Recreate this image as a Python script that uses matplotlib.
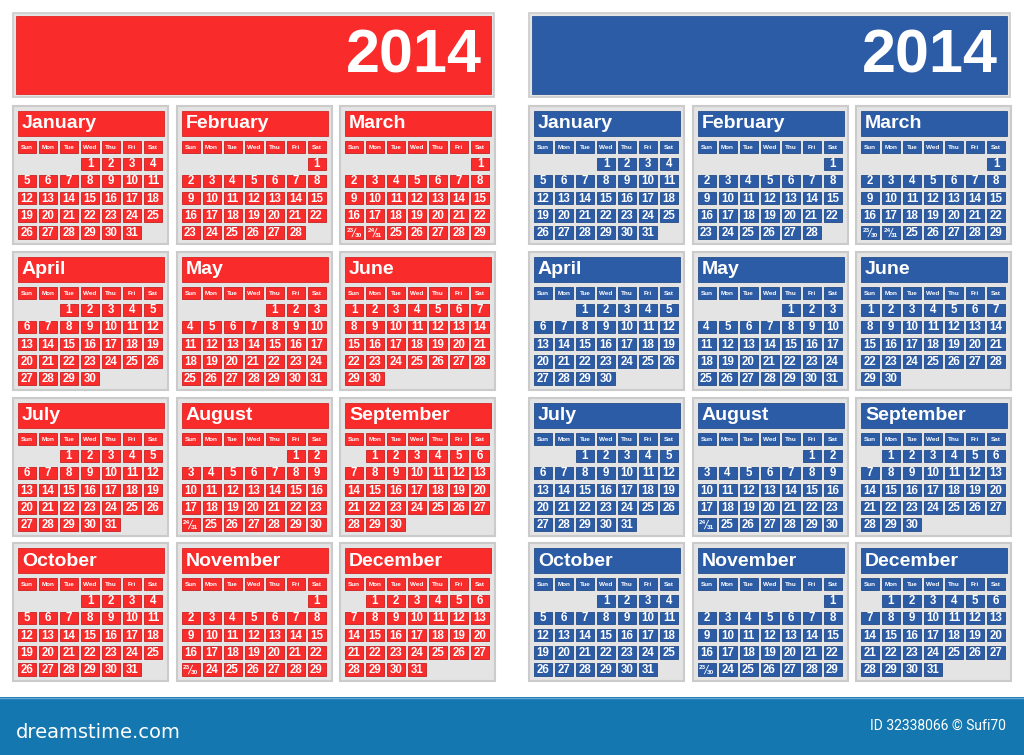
import matplotlib
matplotlib.use("Agg")
import matplotlib.pyplot as plt
from matplotlib.patches import Rectangle

# ---- data ----
year = "2014"
month_names = ["January", "February", "March", "April", "May", "June",
               "July", "August", "September", "October", "November", "December"]
weekday_names = ["Sun", "Mon", "Tue", "Wed", "Thu", "Fri", "Sat"]
first_weekday = [3, 6, 6, 2, 4, 0, 2, 5, 1, 3, 6, 1]   # 0 = Sunday
month_days = [31, 28, 31, 30, 31, 30, 31, 31, 30, 31, 30, 31]
theme_colors = ["#f92b2b", "#2c5ca6"]
footer_left = "dreamstime.com"
footer_right = "ID 32338066 \u00a9 Sufi70"

W, H = 1024, 755
fig = plt.figure(figsize=(W / 100, H / 100), dpi=100)
ax = fig.add_axes([0, 0, 1, 1])
ax.set_xlim(0, W)
ax.set_ylim(H, 0)
ax.axis("off")
fig.patch.set_facecolor("white")

FONT = "Liberation Sans"
panel_bg = "#e4e4e4"
panel_edge = "#cbcbcb"

side_x0 = [13, 529]
col_dx = [0, 163.5, 327]
row_y0 = [106, 252, 398, 543]
PW, PH = 155, 138


def darker(c, f=0.8):
    r, g, b = matplotlib.colors.to_rgb(c)
    return (r * f, g * f, b * f)


for s, color in enumerate(theme_colors):
    x0 = side_x0[s]
    # header block
    ax.add_patch(Rectangle((x0, 13), 481, 84, facecolor=panel_bg,
                           edgecolor=panel_edge, lw=1.2))
    ax.add_patch(Rectangle((x0 + 3, 16), 475, 78, facecolor=color,
                           edgecolor=darker(color, 0.9), lw=0.6))
    ax.text(x0 + 469, 57, year, color="white", fontsize=44, fontweight="bold",
            family=FONT, ha="right", va="center")

    for m in range(12):
        px = x0 + col_dx[m % 3]
        py = row_y0[m // 3]
        ax.add_patch(Rectangle((px, py), PW, PH, facecolor=panel_bg,
                               edgecolor=panel_edge, lw=1.5))
        ax.add_patch(Rectangle((px + 5, py + 5), 146, 25, facecolor=color,
                               edgecolor=darker(color, 0.85), lw=0.6))
        ax.text(px + 9, py + 18, month_names[m], color="white", fontsize=14,
                fontweight="bold", family=FONT, ha="left", va="center")
        cw, ch, step = 18, 12.5, 21
        for i, wd in enumerate(weekday_names):
            cx = px + 5 + i * step
            ax.add_patch(Rectangle((cx, py + 35), cw, 12, facecolor=color,
                                   edgecolor=darker(color, 0.8), lw=0.6))
            ax.text(cx + cw / 2, py + 41.3, wd, color="white", fontsize=4.6,
                    fontweight="bold", family=FONT, ha="center", va="center")
        off = first_weekday[m]
        nd = month_days[m]
        for d in range(1, nd + 1):
            idx = off + d - 1
            if idx >= 35:
                continue
            r, c = divmod(idx, 7)
            cx = px + 5 + c * step
            cy = py + 51.5 + r * 17.2
            ax.add_patch(Rectangle((cx, cy), cw, ch, facecolor=color,
                                   edgecolor=darker(color, 0.8), lw=0.6))
            if r == 4 and d + 7 <= nd and off + d + 6 >= 35:
                ax.text(cx + 1.5, cy + 3.8, str(d), color="white", fontsize=4.6,
                        fontweight="bold", family=FONT, ha="left", va="center")
                ax.text(cx + cw - 1.5, cy + ch - 3.2, str(d + 7), color="white",
                        fontsize=4.6, fontweight="bold", family=FONT,
                        ha="right", va="center")
                ax.plot([cx + 7, cx + 11], [cy + ch - 2, cy + 2], color="white",
                        lw=0.6)
            else:
                ax.text(cx + cw / 2, cy + ch / 2 + 0.5, str(d), color="white",
                        fontsize=8.3, fontweight="bold", family=FONT,
                        ha="center", va="center")

# footer bar
ax.add_patch(Rectangle((0, 697), W, 58, facecolor="#1477b0", edgecolor="none"))
ax.plot([0, W], [697.5, 697.5], color="#6aa9d3", lw=1)
ax.text(16, 732, footer_left, color="white", fontsize=14, family="DejaVu Sans",
        ha="left", va="center")
ax.text(1006, 726, footer_right, color="white", fontsize=10, family="Roboto",
        ha="right", va="center")

fig.savefig("out.png", dpi=100, facecolor="white")
